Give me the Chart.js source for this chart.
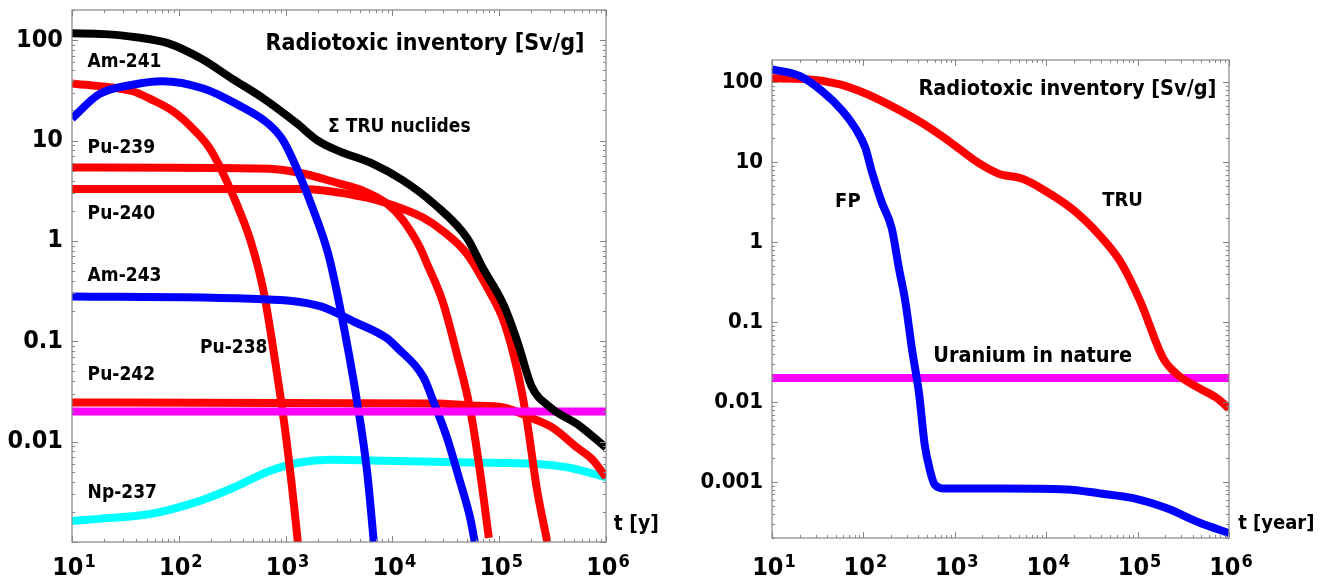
<!DOCTYPE html>
<html>
<head>
<meta charset="utf-8">
<script src="https://cdn.jsdelivr.net/npm/chart.js@4.4.0/dist/chart.umd.min.js"></script>
<style>
  body { margin: 0; background: #fff; width: 1332px; height: 581px; position: relative; overflow: hidden; }
  canvas { position: absolute; top: 0; }
  #left { left: 0; }
  #right { left: 666px; }
</style>
</head>
<body>
<canvas id="left" width="666" height="581"></canvas>
<canvas id="right" width="666" height="581"></canvas>
<script>
// ---- left panel: radiotoxicity of the single TRU nuclides [Sv/g] vs time [years]
const sumTruYears  = [10, 20, 40, 80, 160, 320, 630, 1260, 2000, 3200, 6300, 12600, 25000, 50000, 70000, 110000, 150000, 200000, 300000, 560000, 1000000];
const sumTruValues = [117, 115, 107, 93, 66, 41, 26, 15, 10, 7.8, 6.0, 4.0, 2.3, 1.07, 0.54, 0.23, 0.095, 0.036, 0.022, 0.0145, 0.0087];

const pu238Years  = [10, 37, 54, 89, 135, 200, 350, 470, 620, 830, 1020, 1290, 1500];
const pu238Values = [37, 31, 26, 19.5, 13.2, 8.0, 2.3, 1.0, 0.32, 0.048, 0.0102, 0.0011, 0.0002];

const am241Years  = [10, 18, 37, 70, 170, 350, 700, 950, 1300, 1800, 2500, 3200, 4700, 5800, 6700];
const am241Values = [16.6, 29, 36, 39, 33, 23, 14.5, 10, 5.0, 2.1, 0.75, 0.23, 0.024, 0.005, 0.001];

const pu240Years  = [10, 700, 1450, 3000, 5200, 8900, 12600, 18200, 21000, 29500, 40000, 54000, 66000, 80000];
const pu240Values = [5.4, 5.25, 4.7, 3.8, 3.2, 2.35, 1.6, 0.85, 0.6, 0.25, 0.076, 0.02, 0.0051, 0.0011];

const pu239Years  = [10, 1350, 5750, 11750, 19500, 29500, 50000, 77600, 110000, 148000, 182000, 224000, 282000];
const pu239Values = [3.3, 3.3, 2.7, 2.14, 1.7, 1.26, 0.74, 0.34, 0.16, 0.051, 0.016, 0.0035, 0.001];

const am243Years  = [10, 620, 2100, 4300, 8900, 11000, 19500, 24000, 32400, 42700, 53700, 59000];
const am243Values = [0.28, 0.263, 0.224, 0.158, 0.107, 0.087, 0.044, 0.0257, 0.011, 0.0041, 0.0017, 0.001];

const pu242Years  = [10, 26000, 54000, 110000, 195000, 316000, 537000, 760000, 1000000];
const pu242Values = [0.0245, 0.024, 0.0229, 0.0219, 0.0174, 0.0138, 0.0087, 0.0065, 0.0044];

const np237Years  = [10, 18, 54, 158, 324, 708, 1350, 2630, 6170, 53700, 224000, 457000, 1000000];
const np237Values = [0.00162, 0.0017, 0.0019, 0.00257, 0.00347, 0.0051, 0.0062, 0.0066, 0.0065, 0.0062, 0.006, 0.0055, 0.0044];

const uraniumYears  = [10, 1000000];
const uraniumValues = [0.02, 0.02];

// ---- right panel: TRU vs fission products
const truYears  = [10, 23, 54, 95, 190, 437, 871, 1820, 3020, 5500, 9120, 19500, 38900, 64600, 107000, 190000, 269000, 479000, 741000, 1000000];
const truValues = [112, 110, 95, 76, 52.5, 31, 18.2, 9.8, 7.2, 6.2, 4.6, 2.57, 1.2, 0.575, 0.182, 0.0355, 0.0224, 0.0148, 0.0112, 0.0083];

const fpYears  = [10, 20, 35, 59, 81, 105, 123, 158, 204, 245, 288, 339, 407, 468, 537, 603, 776, 3090, 17000, 38900, 89100, 209000, 479000, 1000000];
const fpValues = [145, 120, 78, 44, 27, 15.1, 7.8, 3.2, 1.5, 0.47, 0.18, 0.047, 0.0126, 0.00295, 0.00138, 0.00093, 0.00083, 0.00083, 0.00081, 0.00072, 0.00063, 0.00047, 0.00031, 0.00023];

// tick labels
const xTickExponents = ['1', '2', '3', '4', '5', '6'];
const leftYTicks  = ['100', '10', '1', '0.1', '0.01'];
const rightYTicks = ['100', '10', '1', '0.1', '0.01', '0.001'];

// text placed inside the plots: [text, year, value, font size]
const leftNotes = [
  ['Radiotoxic inventory [Sv/g]', 650, 91, 23],
  ['Am-241', 14, 60, 19],
  ['\u03A3 TRU nuclides', 2500, 13.5, 19],
  ['Pu-239', 14, 8.5, 19],
  ['Pu-240', 14, 1.86, 19],
  ['Am-243', 14, 0.45, 19],
  ['Pu-238', 158, 0.085, 19],
  ['Pu-242', 14, 0.046, 19],
  ['Np-237', 14, 0.0031, 19],
  ['t [y]', 1180000, 0.0015, 21]
];
const rightNotes = [
  ['Radiotoxic inventory [Sv/g]', 400, 82, 21.5],
  ['FP', 49, 3.16, 20],
  ['TRU', 41000, 3.25, 20],
  ['Uranium in nature', 580, 0.037, 21.5],
  ['t [year]', 1260000, 0.0003, 20]
];

const FONT = '"DejaVu Sans Condensed", "DejaVu Sans", sans-serif';

function decadeKey(v) {
  const e = Math.log10(v);
  if (Math.abs(e - Math.round(e)) > 1e-6) return null;
  return Math.round(e);
}

// gray box round the plot with small inward ticks on all four sides
const framePlugin = {
  id: 'frame',
  afterDatasetsDraw(chart) {
    const {ctx, chartArea: a, scales} = chart;
    ctx.save();
    ctx.strokeStyle = '#858585';
    ctx.lineWidth = 1.2;
    ctx.strokeRect(a.left, a.top, a.right - a.left, a.bottom - a.top);
    ctx.beginPath();
    for (let e = -5; e <= 6; e++) {
      for (let d = 1; d <= 9; d++) {
        const v = d * Math.pow(10, e);
        const len = d === 1 ? 6 : 3;
        if (v >= scales.x.min && v <= scales.x.max) {
          const px = Math.round(scales.x.getPixelForValue(v)) + 0.5;
          ctx.moveTo(px, a.bottom); ctx.lineTo(px, a.bottom - len);
          ctx.moveTo(px, a.top); ctx.lineTo(px, a.top + len);
        }
        if (v >= scales.y.min && v <= scales.y.max) {
          const py = Math.round(scales.y.getPixelForValue(v)) + 0.5;
          ctx.moveTo(a.left, py); ctx.lineTo(a.left + len, py);
          ctx.moveTo(a.right, py); ctx.lineTo(a.right - len, py);
        }
      }
    }
    ctx.lineWidth = 1;
    ctx.stroke();
    ctx.restore();
  }
};

// in-plot notes and the 10^n labels under the x axis
const notesPlugin = {
  id: 'notes',
  afterDraw(chart, args, opts) {
    const {ctx, scales, chartArea: a} = chart;
    ctx.save();
    ctx.fillStyle = '#000';
    ctx.textAlign = 'left';
    ctx.textBaseline = 'middle';
    for (const [text, t, v, size] of opts.items) {
      ctx.font = 'bold ' + size + 'px ' + FONT;
      ctx.fillText(text, scales.x.getPixelForValue(t), scales.y.getPixelForValue(v));
    }
    ctx.textBaseline = 'alphabetic';
    const base = a.bottom + opts.xBase;
    xTickExponents.forEach((ex, i) => {
      const px = scales.x.getPixelForValue(Math.pow(10, i + 1));
      ctx.font = 'bold ' + opts.xFont + 'px ' + FONT;
      const w1 = ctx.measureText('10').width;
      ctx.font = 'bold ' + opts.expFont + 'px ' + FONT;
      const w2 = ctx.measureText(ex).width;
      const x0 = px - (w1 + 1 + w2) / 2 + 2;
      ctx.font = 'bold ' + opts.xFont + 'px ' + FONT;
      ctx.fillText('10', x0, base);
      ctx.font = 'bold ' + opts.expFont + 'px ' + FONT;
      ctx.fillText(ex, x0 + w1 + 1, base - 8);
    });
    ctx.restore();
  }
};

function series(years, values, color) {
  return {
    data: years.map((t, i) => ({x: t, y: values[i]})),
    borderColor: color,
    borderWidth: 8,
    pointRadius: 0,
    fill: false,
    cubicInterpolationMode: 'monotone',
    borderJoinStyle: 'round',
    clip: 0
  };
}

function makeChart(id, datasets, s) {
  return new Chart(document.getElementById(id), {
    type: 'line',
    data: {datasets: datasets},
    options: {
      responsive: false,
      animation: false,
      devicePixelRatio: 1,
      layout: {padding: {top: s.top, right: s.right, left: 0, bottom: 0}},
      plugins: {
        legend: {display: false},
        tooltip: {enabled: false},
        notes: {items: s.notes, xBase: s.xBase, xFont: s.xFont, expFont: s.expFont}
      },
      scales: {
        x: {
          type: 'logarithmic', min: 10, max: 1000000,
          grid: {display: false, drawTicks: false},
          border: {display: false},
          afterFit(scale) { scale.height = s.xHeight; scale.paddingLeft = 0; scale.paddingRight = 0; },
          ticks: {display: false}
        },
        y: {
          type: 'logarithmic', min: s.yMin, max: s.yMax,
          grid: {display: false, drawTicks: false},
          border: {display: false},
          afterFit(scale) { scale.width = s.yWidth; scale.paddingTop = 0; scale.paddingBottom = 0; },
          ticks: {
            autoSkip: false, padding: 9, color: '#000',
            font: {family: FONT, size: s.yFont, weight: 'bold'},
            callback: v => {
              const e = decadeKey(v);
              if (e === null) return '';
              const lab = e >= 0 ? String(Math.pow(10, e)) : Math.pow(10, e).toFixed(-e);
              return s.yTicks.includes(lab) ? lab : '';
            }
          }
        }
      }
    },
    plugins: [framePlugin, notesPlugin]
  });
}

// first dataset is drawn on top
makeChart('left', [
  series(sumTruYears, sumTruValues, '#000000'),
  series(uraniumYears, uraniumValues, '#ff00ff'),
  series(am241Years, am241Values, '#0000ff'),
  series(am243Years, am243Values, '#0000ff'),
  series(pu238Years, pu238Values, '#ff0000'),
  series(pu239Years, pu239Values, '#ff0000'),
  series(pu240Years, pu240Values, '#ff0000'),
  series(pu242Years, pu242Values, '#ff0000'),
  series(np237Years, np237Values, '#00ffff')
], {top: 10, right: 60, xHeight: 39, yWidth: 72, xBase: 33, xFont: 25, expFont: 18, yFont: 25,
    yMin: 0.001, yMax: 200, yTicks: leftYTicks, notes: leftNotes});

makeChart('right', [
  series(fpYears, fpValues, '#0000ff'),
  series(truYears, truValues, '#ff0000'),
  series(uraniumYears, uraniumValues, '#ff00ff')
], {top: 60, right: 103, xHeight: 43, yWidth: 106, xBase: 37, xFont: 25, expFont: 18, yFont: 22,
    yMin: 0.0002, yMax: 190, yTicks: rightYTicks, notes: rightNotes});
</script>
</body>
</html>
